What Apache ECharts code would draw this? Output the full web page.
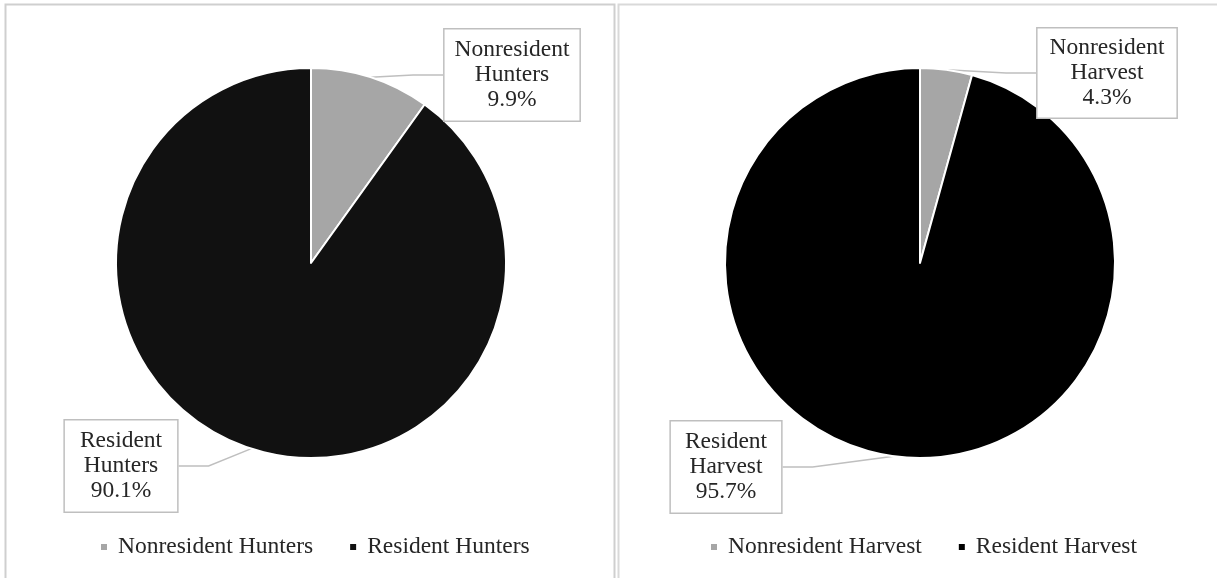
<!DOCTYPE html>
<html>
<head>
<meta charset="utf-8">
<script src="https://cdn.jsdelivr.net/npm/echarts@6/dist/echarts.min.js"></script>
<style>
html,body{margin:0;padding:0;background:#fff;}
#chart{width:1217px;height:578px;}
</style>
</head>
<body>
<div id="chart"></div>
<script>
// ---- data ----
const hunterCategories = ['Nonresident Hunters', 'Resident Hunters'];
const hunterValues = [9.9, 90.1];
const harvestCategories = ['Nonresident Harvest', 'Resident Harvest'];
const harvestValues = [4.3, 95.7];

// ---- styling / layout (not data) ----
const FONT = '"Liberation Serif", "Times New Roman", serif';
const TEXT = '#262626';
const GRAY = '#a6a6a6';
const labelPos = [
  [[512, 75], [121, 466]],
  [[1107, 73], [726, 467]]
];
const labelPad = [
  [[8, 10, 8, 10], [8, 15, 8, 15]],
  [[7, 12, 7, 12], [8, 14, 8, 14]]
];

function splitLabel(name, val) {
  const parts = name.split(' ');
  return parts[0] + '\n' + parts.slice(1).join(' ') + '\n' + val.toFixed(1) + '%';
}

function pieSeries(cats, vals, center, dark, idx) {
  return {
    type: 'pie',
    center: center,
    radius: 195,
    startAngle: 90,
    clockwise: true,
    avoidLabelOverlap: false,
    animation: false,
    itemStyle: { borderColor: '#ffffff', borderWidth: 2 },
    label: {
      show: true,
      formatter: p => splitLabel(p.name, p.value),
      fontFamily: FONT,
      fontSize: 23.5,
      lineHeight: 25,
      color: TEXT,
      align: 'center',
      backgroundColor: '#ffffff',
      borderColor: '#bfbfbf',
      borderWidth: 1.5
    },
    labelLine: { show: true, lineStyle: { color: '#bfbfbf', width: 1.5 } },
    labelLayout: function (params) {
      const p = labelPos[idx][params.dataIndex];
      return { x: p[0], y: p[1], align: 'center', verticalAlign: 'middle', moveOverlap: false };
    },
    emphasis: { disabled: true },
    data: cats.map((c, i) => ({
      name: c,
      value: vals[i],
      itemStyle: { color: i === 0 ? GRAY : dark },
      label: { padding: labelPad[idx][i] }
    }))
  };
}

function legendFor(cats, left) {
  return {
    data: cats,
    left: left, top: 530,
    icon: 'rect', itemWidth: 8, itemHeight: 8, itemGap: 35,
    textStyle: { fontFamily: FONT, fontSize: 23.5, color: TEXT, padding: [0, 0, 0, 5] },
    selectedMode: false
  };
}

const chart = echarts.init(document.getElementById('chart'), null, { renderer: 'canvas' });
chart.setOption({
  backgroundColor: '#ffffff',
  animation: false,
  graphic: [
    { type: 'rect', shape: { x: 5.5, y: 4.5, width: 609, height: 620 }, style: { fill: 'none', stroke: '#cfcfcf', lineWidth: 2 }, silent: true },
    { type: 'rect', shape: { x: 618.5, y: 4.5, width: 700, height: 620 }, style: { fill: 'none', stroke: '#d9d9d9', lineWidth: 2 }, silent: true }
  ],
  legend: [
    legendFor(hunterCategories, 94),
    legendFor(harvestCategories, 704)
  ],
  series: [
    pieSeries(hunterCategories, hunterValues, [311, 263], '#111111', 0),
    pieSeries(harvestCategories, harvestValues, [920, 263], '#000000', 1)
  ]
});
</script>
</body>
</html>
